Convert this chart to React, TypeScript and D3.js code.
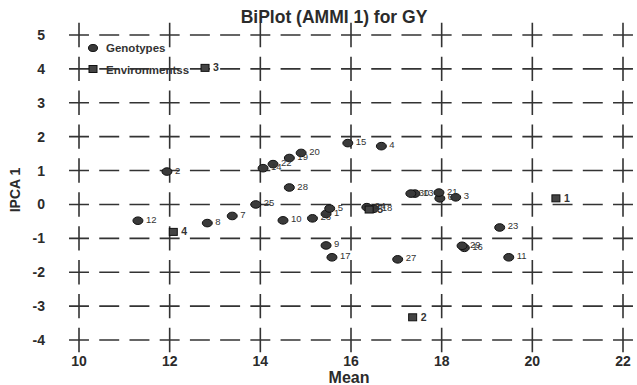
import React, { useRef, useEffect } from 'react';
import * as d3 from 'd3';

// Genotype scores (mean GY vs IPCA 1)
const genoLabels = ['1', '2', '3', '4', '5', '6', '7', '8', '9', '10', '11', '12', '13', '14', '15', '16', '17', '18', '19', '20', '21', '22', '23', '24', '25', '26', '27', '28', '29', '30'];
const genoMean = [15.45, 11.94, 18.31, 16.67, 15.53, 17.96, 13.38, 12.83, 15.45, 14.5, 19.48, 11.3, 17.41, 14.06, 15.93, 18.5, 15.58, 16.5, 14.64, 14.9, 17.94, 14.28, 19.28, 16.35, 13.9, 15.15, 17.03, 14.64, 18.45, 17.32];
const genoIPCA = [-0.28, 0.97, 0.21, 1.72, -0.12, 0.18, -0.34, -0.55, -1.21, -0.47, -1.56, -0.48, 0.32, 1.07, 1.81, -1.28, -1.56, -0.13, 1.37, 1.52, 0.35, 1.19, -0.68, -0.08, 0.0, -0.41, -1.62, 0.5, -1.22, 0.32];

// Environment scores
const envLabels = ['1', '2', '3', '4', '5'];
const envMean = [20.52, 17.36, 12.78, 12.08, 16.4];
const envIPCA = [0.18, -3.33, 4.03, -0.81, -0.15];

const xTicks = [10, 12, 14, 16, 18, 20, 22];
const yTicks = [5, 4, 3, 2, 1, 0, -1, -2, -3, -4];

const App: React.FC = () => {
    const svgRef = useRef<SVGSVGElement | null>(null);
    const width = 637;
    const height = 385;

    useEffect(() => {
        if (!svgRef.current) return;
        const svg = d3.select(svgRef.current);
        svg.selectAll('*').remove();

        const x = d3.scaleLinear().domain([10, 22]).range([79, 623]);
        const y = d3.scaleLinear().domain([-4, 5]).range([340, 35]);
        const ink = '#2b2b2b';
        const font = 'Arial, "Liberation Sans", sans-serif';

        svg.append('rect').attr('width', width).attr('height', height).attr('fill', 'white');

        // Dashed grid, a dash centred on every crossing
        const hPeriod = (x(12) - x(10)) / 3;
        const hDash = hPeriod * 0.66;
        svg.append('g').selectAll('line').data(yTicks).join('line')
            .attr('x1', x(10) - hDash / 2).attr('x2', x(22) + hDash / 2)
            .attr('y1', d => y(d)).attr('y2', d => y(d))
            .attr('stroke', '#333').attr('stroke-width', 1.6)
            .attr('stroke-dasharray', `${hDash},${hPeriod - hDash}`);

        const vPeriod = y(0) - y(1);
        const vDash = vPeriod * 0.72;
        svg.append('g').selectAll('line').data(xTicks).join('line')
            .attr('x1', d => x(d)).attr('x2', d => x(d))
            .attr('y1', y(5) - vDash / 2).attr('y2', y(-4) + vDash / 2)
            .attr('stroke', '#333').attr('stroke-width', 1.6)
            .attr('stroke-dasharray', `${vDash},${vPeriod - vDash}`);

        // Tick labels
        svg.append('g').selectAll('text').data(xTicks).join('text')
            .attr('x', d => x(d)).attr('y', 366)
            .attr('text-anchor', 'middle')
            .attr('font-family', font).attr('font-weight', 'bold').attr('font-size', 14)
            .attr('fill', ink).text(d => d);
        svg.append('g').selectAll('text').data(yTicks).join('text')
            .attr('x', 45).attr('y', d => y(d) + 5)
            .attr('text-anchor', 'end')
            .attr('font-family', font).attr('font-weight', 'bold').attr('font-size', 14)
            .attr('fill', ink).text(d => d);

        // Titles
        svg.append('text').attr('x', 334).attr('y', 23).attr('text-anchor', 'middle')
            .attr('font-family', font).attr('font-weight', 'bold').attr('font-size', 17.5)
            .attr('fill', ink).text('BiPlot (AMMI 1) for GY');
        svg.append('text').attr('x', 349).attr('y', 383).attr('text-anchor', 'middle')
            .attr('font-family', font).attr('font-weight', 'bold').attr('font-size', 16)
            .attr('fill', ink).text('Mean');
        svg.append('text').attr('transform', 'translate(20,190) rotate(-90)').attr('text-anchor', 'middle')
            .attr('font-family', font).attr('font-weight', 'bold').attr('font-size', 14)
            .attr('fill', ink).text('IPCA 1');

        // Genotypes
        const geno = genoLabels.map((l, i) => ({ l, m: genoMean[i], p: genoIPCA[i] }));
        svg.append('g').selectAll('ellipse').data(geno).join('ellipse')
            .attr('cx', d => x(d.m)).attr('cy', d => y(d.p))
            .attr('rx', 5).attr('ry', 3.8)
            .attr('fill', '#3a3a3a').attr('stroke', '#111').attr('stroke-width', 1);
        svg.append('g').selectAll('text').data(geno).join('text')
            .attr('x', d => x(d.m) + 8).attr('y', d => y(d.p) + 2)
            .attr('font-family', font).attr('font-size', 9.5)
            .attr('fill', '#333').text(d => d.l);

        // Environments
        const env = envLabels.map((l, i) => ({ l, m: envMean[i], p: envIPCA[i] }));
        svg.append('g').selectAll('rect').data(env).join('rect')
            .attr('x', d => x(d.m) - 4).attr('y', d => y(d.p) - 3.5)
            .attr('width', 8).attr('height', 7)
            .attr('fill', '#444').attr('stroke', '#111').attr('stroke-width', 1);
        svg.append('g').selectAll('text').data(env).join('text')
            .attr('x', d => x(d.m) + 8).attr('y', d => y(d.p) + 3.5)
            .attr('font-family', font).attr('font-size', 10.5).attr('font-weight', 'bold')
            .attr('fill', '#333').text(d => d.l);

        // Legend
        const legend = svg.append('g').attr('transform', 'translate(93,48)');
        legend.append('ellipse').attr('cx', 0).attr('cy', 0).attr('rx', 4.5).attr('ry', 3.5)
            .attr('fill', '#3a3a3a').attr('stroke', '#111');
        legend.append('text').attr('x', 13).attr('y', 4)
            .attr('font-family', font).attr('font-weight', 'bold').attr('font-size', 11.5)
            .attr('fill', '#333').text('Genotypes');
        legend.append('rect').attr('x', -4).attr('y', 17.5).attr('width', 8).attr('height', 7)
            .attr('fill', '#444').attr('stroke', '#111');
        legend.append('text').attr('x', 13).attr('y', 25.5)
            .attr('font-family', font).attr('font-weight', 'bold').attr('font-size', 11.5)
            .attr('fill', '#333').text('Environmentss');
    }, []);

    return <svg ref={svgRef} width={width} height={height} style={{ position: 'absolute', left: 0, top: 0 }}></svg>;
};

export default App;
